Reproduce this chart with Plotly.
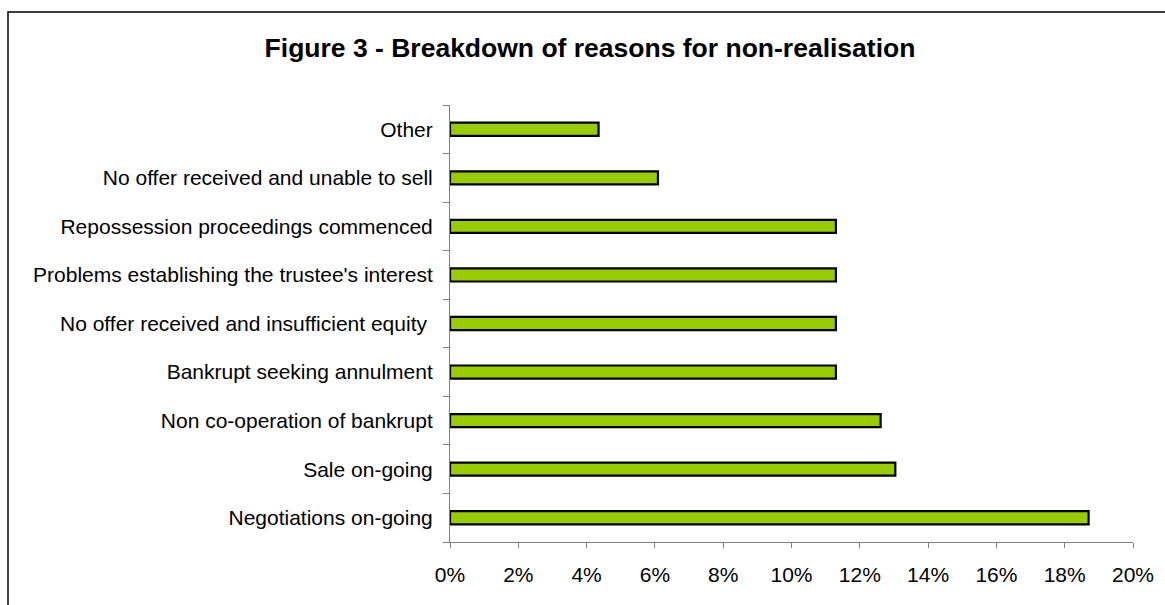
import plotly.graph_objects as go

categories = [
    "Negotiations on-going",
    "Sale on-going",
    "Non co-operation of bankrupt",
    "Bankrupt seeking annulment",
    "No offer received and insufficient equity\u00a0",
    "Problems establishing the trustee's interest",
    "Repossession proceedings commenced",
    "No offer received and unable to sell",
    "Other",
]
values = [18.70, 13.04, 12.61, 11.30, 11.30, 11.30, 11.30, 6.09, 4.35]
x_ticks = [0, 2, 4, 6, 8, 10, 12, 14, 16, 18, 20]
x_tick_labels = [f"{v}%" for v in x_ticks]
title_text = "Figure 3 - Breakdown of reasons for non-realisation"

W, H = 1165, 605
L, R, T, B = 450, 32, 105, 63

fig = go.Figure()
fig.add_trace(go.Bar(
    y=categories, x=values, orientation="h",
    width=0.27,
    marker=dict(color="#99CC00", line=dict(color="#000000", width=2.2)),
    hoverinfo="x+y",
))

pw = W - L - R
ph = H - T - B

def px2paper_x(px):
    return (px - L) / pw

def px2paper_y(py):
    return (H - B - py) / ph

fig.add_shape(type="rect", xref="paper", yref="paper",
              x0=px2paper_x(8), x1=px2paper_x(1175),
              y0=px2paper_y(615), y1=px2paper_y(12),
              line=dict(color="#000000", width=1.5), fillcolor="rgba(0,0,0,0)", layer="below")

fig.update_layout(
    width=W, height=H,
    margin=dict(l=L, r=R, t=T, b=B, pad=0),
    paper_bgcolor="white", plot_bgcolor="white",
    showlegend=False,
    font=dict(family="Liberation Sans, Arial, sans-serif", size=21, color="#000000"),
    title=dict(text="<b>" + title_text + "</b>", xref="container", yref="container",
               x=590 / W, xanchor="center", y=1 - 48 / H, yanchor="middle",
               font=dict(family="Liberation Sans, Arial, sans-serif", size=26.5, color="#000000")),
    xaxis=dict(range=[0, 20], tickvals=x_ticks, ticktext=x_tick_labels,
               showgrid=False, zeroline=False, showline=True, linecolor="#808080", linewidth=1,
               ticks="outside", ticklen=5, tickcolor="#808080", tickwidth=1,
               ticklabelstandoff=9, fixedrange=True),
    yaxis=dict(type="category", categoryorder="array", categoryarray=categories,
               range=[-0.5, 8.5],
               showgrid=False, zeroline=False, showline=True, linecolor="#808080", linewidth=1,
               ticks="outside", ticklen=6, tickcolor="#808080", tickwidth=1,
               tickson="boundaries", ticklabelstandoff=12, fixedrange=True),
)

fig.write_html("out.html")
